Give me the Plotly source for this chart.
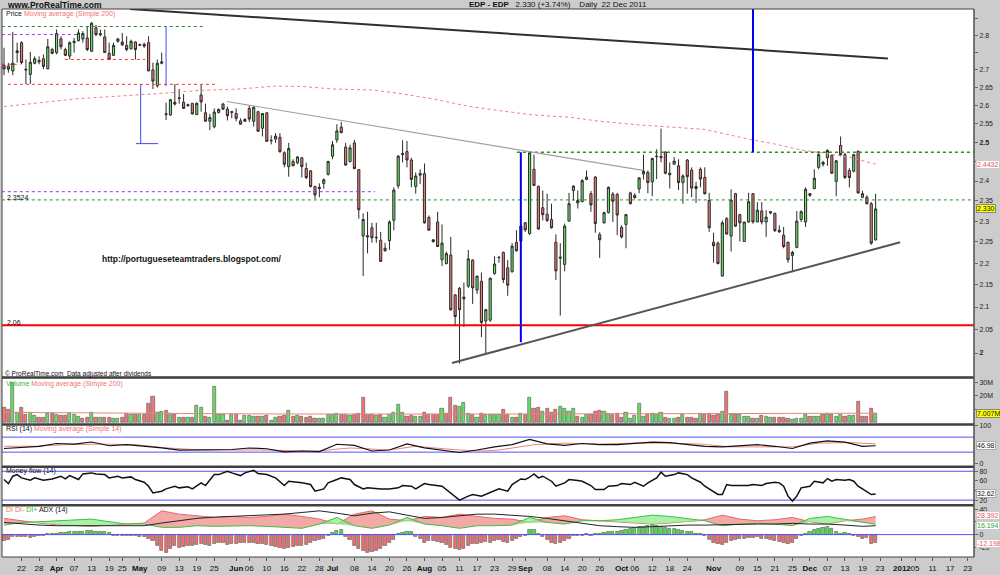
import numpy as np
import pandas as pd
import plotly.graph_objects as go
from plotly.subplots import make_subplots

FONT = "Liberation Sans, Arial, sans-serif"

# ---------------- data ----------------
holidays = ["2011-04-22", "2011-04-25", "2011-12-26"]

opens = [2.713,2.711,2.697,2.750,2.779,2.702,2.687,2.719,2.723,2.732,
         2.703,2.759,2.750,2.790,2.759,2.740,2.779,2.785,2.790,2.793,
         2.754,2.823,2.802,2.796,2.748,2.742,2.783,2.781,2.771,2.761,
         2.781,2.773,2.774,2.779,2.700,2.655,2.719,2.575,2.574,2.609,
         2.621,2.609,2.600,2.606,2.575,2.629,2.580,2.557,2.542,2.581,
         2.604,2.590,2.581,2.578,2.558,2.557,2.592,2.557,2.583,2.538,
         2.580,2.506,2.509,2.514,2.473,2.437,2.450,2.447,2.460,2.432,
         2.426,2.386,2.381,2.394,2.417,2.464,2.507,2.541,2.488,2.450,
         2.499,2.429,2.264,2.265,2.284,2.261,2.254,2.235,2.253,2.302,
         2.388,2.468,2.476,2.454,2.386,2.415,2.419,2.309,2.251,2.298,
         2.208,2.199,2.219,2.127,2.142,2.118,2.147,2.207,2.138,2.158,
         2.069,2.071,2.176,2.214,2.225,2.189,2.180,2.249,2.252,2.296,
         2.270,2.430,2.386,2.333,2.317,2.304,2.249,2.214,2.197,2.300,
         2.376,2.345,2.348,2.404,2.368,2.410,2.267,2.296,2.321,2.367,
         2.366,2.285,2.292,2.370,2.358,2.380,2.418,2.422,2.398,2.464,
         2.460,2.475,2.416,2.443,2.439,2.396,2.454,2.428,2.386,2.430,
         2.409,2.351,2.249,2.247,2.170,2.306,2.264,2.368,2.316,2.251,
         2.298,2.368,2.298,2.325,2.298,2.320,2.319,2.278,2.266,2.249,
         2.218,2.237,2.304,2.298,2.368,2.381,2.435,2.443,2.460,2.466,
         2.399,2.492,2.468,2.427,2.425,2.477,2.359,2.359,2.343,2.255]
highs = [2.764,2.720,2.811,2.779,2.783,2.730,2.752,2.739,2.739,2.745,
         2.790,2.764,2.818,2.798,2.764,2.783,2.793,2.818,2.813,2.827,
         2.840,2.832,2.818,2.818,2.779,2.779,2.793,2.808,2.798,2.788,
         2.783,2.776,2.779,2.798,2.721,2.730,2.750,2.608,2.618,2.660,
         2.646,2.632,2.605,2.606,2.609,2.657,2.605,2.577,2.592,2.592,
         2.607,2.597,2.585,2.592,2.565,2.565,2.600,2.598,2.585,2.578,
         2.580,2.519,2.525,2.525,2.477,2.499,2.456,2.464,2.460,2.447,
         2.428,2.388,2.394,2.407,2.452,2.504,2.549,2.555,2.499,2.494,
         2.507,2.430,2.319,2.323,2.296,2.296,2.274,2.248,2.302,2.384,
         2.467,2.506,2.504,2.460,2.422,2.430,2.445,2.314,2.257,2.323,
         2.292,2.227,2.262,2.129,2.145,2.155,2.231,2.209,2.170,2.178,
         2.096,2.167,2.216,2.216,2.227,2.207,2.247,2.278,2.292,2.298,
         2.477,2.468,2.389,2.376,2.368,2.343,2.268,2.247,2.294,2.370,
         2.389,2.376,2.405,2.427,2.375,2.413,2.273,2.323,2.386,2.372,
         2.370,2.290,2.318,2.373,2.369,2.410,2.468,2.427,2.460,2.482,
         2.537,2.477,2.448,2.462,2.456,2.417,2.456,2.435,2.398,2.435,
         2.435,2.370,2.272,2.251,2.302,2.310,2.379,2.370,2.318,2.298,
         2.370,2.368,2.347,2.347,2.327,2.325,2.321,2.290,2.286,2.251,
         2.229,2.325,2.327,2.384,2.370,2.430,2.477,2.452,2.482,2.468,
         2.454,2.516,2.473,2.433,2.470,2.479,2.375,2.364,2.347,2.368]
lows = [2.685,2.692,2.685,2.721,2.716,2.660,2.660,2.716,2.716,2.702,
        2.702,2.745,2.745,2.759,2.740,2.730,2.750,2.783,2.779,2.754,
        2.752,2.798,2.798,2.750,2.730,2.740,2.779,2.769,2.754,2.759,
        2.730,2.769,2.764,2.697,2.646,2.650,2.716,2.560,2.572,2.600,
        2.605,2.592,2.596,2.575,2.575,2.583,2.557,2.533,2.538,2.578,
        2.588,2.559,2.565,2.557,2.548,2.555,2.555,2.543,2.528,2.516,
        2.503,2.495,2.499,2.473,2.435,2.411,2.439,2.443,2.409,2.405,
        2.384,2.355,2.359,2.381,2.414,2.456,2.499,2.525,2.439,2.448,
        2.430,2.306,2.170,2.223,2.248,2.248,2.204,2.227,2.231,2.278,
        2.381,2.448,2.435,2.384,2.368,2.392,2.294,2.278,2.248,2.239,
        2.193,2.197,2.092,2.059,1.978,2.056,2.143,2.107,2.129,2.034,
        2.000,2.067,2.173,2.201,2.154,2.125,2.178,2.227,2.250,2.274,
        2.267,2.387,2.279,2.302,2.298,2.282,2.161,2.081,2.181,2.300,
        2.351,2.331,2.347,2.402,2.323,2.272,2.212,2.294,2.319,2.298,
        2.266,2.258,2.235,2.341,2.355,2.369,2.404,2.369,2.362,2.405,
        2.448,2.417,2.381,2.443,2.377,2.343,2.368,2.359,2.345,2.384,
        2.366,2.274,2.201,2.197,2.169,2.267,2.227,2.286,2.251,2.251,
        2.296,2.294,2.298,2.292,2.262,2.317,2.274,2.272,2.235,2.201,
        2.179,2.235,2.298,2.286,2.360,2.379,2.430,2.437,2.439,2.418,
        2.362,2.464,2.405,2.384,2.422,2.368,2.357,2.341,2.243,2.253]
closes = [2.703,2.702,2.719,2.755,2.721,2.700,2.722,2.732,2.727,2.710,
          2.767,2.748,2.806,2.767,2.742,2.779,2.783,2.808,2.806,2.759,
          2.837,2.803,2.806,2.750,2.730,2.771,2.790,2.773,2.759,2.783,
          2.759,2.772,2.769,2.697,2.668,2.719,2.723,2.577,2.616,2.604,
          2.620,2.592,2.602,2.577,2.606,2.610,2.557,2.567,2.582,2.589,
          2.590,2.572,2.583,2.565,2.549,2.562,2.563,2.595,2.530,2.578,
          2.503,2.505,2.517,2.476,2.443,2.484,2.439,2.462,2.437,2.409,
          2.386,2.365,2.384,2.403,2.450,2.494,2.531,2.526,2.441,2.486,
          2.432,2.328,2.304,2.262,2.260,2.260,2.204,2.229,2.298,2.377,
          2.464,2.471,2.454,2.404,2.413,2.419,2.296,2.278,2.255,2.239,
          2.247,2.222,2.094,2.079,2.094,2.122,2.210,2.143,2.170,2.066,
          2.094,2.165,2.198,2.213,2.162,2.149,2.240,2.229,2.288,2.279,
          2.473,2.389,2.281,2.316,2.302,2.284,2.182,2.212,2.288,2.343,
          2.387,2.351,2.401,2.410,2.340,2.294,2.255,2.321,2.384,2.349,
          2.315,2.262,2.316,2.343,2.364,2.408,2.425,2.396,2.458,2.463,
          2.463,2.420,2.420,2.451,2.396,2.413,2.411,2.382,2.381,2.405,
          2.368,2.284,2.241,2.199,2.296,2.269,2.352,2.288,2.296,2.298,
          2.348,2.298,2.327,2.298,2.310,2.323,2.277,2.274,2.239,2.208,
          2.225,2.300,2.323,2.379,2.364,2.407,2.468,2.448,2.479,2.420,
          2.452,2.468,2.409,2.409,2.468,2.370,2.368,2.343,2.247,2.330]
volume_m = [11.2,10.0,29.8,7.5,11.2,6.3,7.5,5.1,3.3,3.8,
            6.8,7.0,5.6,5.1,5.1,6.8,5.6,4.3,2.6,3.8,
            7.5,3.3,3.8,3.3,3.8,2.6,2.6,3.8,6.8,5.6,
            6.3,5.6,6.3,14.2,19.4,7.5,8.3,8.8,6.8,6.3,
            3.3,3.3,3.3,3.8,13.0,11.2,4.6,3.8,27.3,5.6,
            5.6,1.4,6.3,6.3,1.4,5.1,5.1,4.3,4.3,4.6,
            5.1,1.4,3.8,4.3,5.1,9.3,4.3,5.1,4.3,3.8,
            4.3,2.6,2.6,3.1,5.6,5.6,6.8,5.8,5.6,5.1,
            6.3,7.0,18.6,5.8,5.8,5.1,5.8,3.3,5.8,7.5,
            13.7,7.5,4.6,5.1,4.6,4.6,7.5,5.8,5.6,5.6,
            10.7,7.0,18.6,13.0,12.0,14.9,6.8,6.3,3.8,6.8,
            5.8,6.3,6.3,5.6,10.0,5.6,3.8,3.8,6.8,6.3,
            18.6,10.5,11.2,8.3,10.5,7.5,9.5,12.0,10.5,8.1,
            10.7,4.6,3.8,5.6,5.8,8.1,9.3,8.1,7.0,5.8,
            6.8,3.8,7.5,2.6,5.1,14.2,4.6,5.6,6.8,5.8,
            7.5,3.8,2.6,2.6,3.8,6.3,3.8,3.8,2.6,6.8,
            5.8,6.8,5.1,6.3,8.1,23.1,6.3,6.3,6.3,4.6,
            4.3,3.1,2.6,5.1,4.6,3.3,3.3,3.3,3.3,2.6,
            1.9,3.1,2.6,6.3,4.3,4.3,4.3,6.3,7.0,6.3,
            4.3,6.3,4.3,5.1,5.1,15.4,4.6,4.6,10.7,7.007]

ma200_idx = [0,17,34,45,54,62,68,75,84,90,98,106,113,121,129,136,145,152,160,165,170,176,182,188,193,199]
ma200_val = [2.597,2.619,2.632,2.642,2.646,2.654,2.653,2.646,2.643,2.634,2.618,2.598,2.586,2.574,
             2.568,2.557,2.547,2.541,2.535,2.522,2.509,2.496,2.480,2.471,2.461,2.4432]
vma_idx = [0,30,60,113,160,199]
vma_val = [7.6,7.0,6.4,6.3,6.5,7.0]

rsi_idx = [0,4,8,12,16,20,24,28,32,36,40,44,48,52,56,60,64,68,72,76,80,84,88,92,96,100,
           104,108,112,116,120,124,128,132,136,140,144,148,152,156,160,164,168,172,176,180,
           184,188,192,196,199]
rsi_val = [39.7,43,45.6,53,51.5,57,47,50,46.4,41.4,35.6,35.6,37,37,41,39,30.5,33,31.4,51,48,33,
           35.6,52,41.4,35.6,29,35.6,44,50,64,52,48,53,50,50,54,56.5,55.6,50.6,45.6,44,47,50,
           45.6,39.7,54,60,56.5,45.6,46.98]
rsima_idx = [0,7,14,22,30,37,45,52,60,68,72,75,79,83,87,90,94,98,104,109,113,121,128,136,144,
             151,159,166,174,180,186,193,199]
rsima_val = [45.6,45.6,49.8,51.5,50,41.4,35.6,35.6,35.6,33,33,37,41,39,35.6,39,45.6,41.4,35.6,33,
             35.6,49.8,54,51.5,54,54,51.5,44,44,44,54,55.6,52]

mf_idx = [0,1,2,3,4,6,7,9,11,12,13,14,15,17,18,20,21,23,24,26,27,29,30,32,33,34,36,37,39,40,
          42,43,45,46,48,49,51,52,54,55,57,58,60,62,64,65,67,68,70,71,73,74,76,77,79,80,82,83,
          86,88,90,91,93,94,96,97,100,101,103,104,106,107,109,110,112,113,115,116,118,119,120,
          121,122,123,125,126,128,129,131,132,134,135,137,138,140,141,143,144,146,147,149,150,
          151,153,154,156,157,159,160,162,163,164,165,166,168,170,171,173,174,176,177,178,179,
          180,181,182,184,185,187,188,189,190,192,193,194,195,196,198,199]
mf_val = [62.8,54.5,69.7,73.1,66.2,61.4,66.2,61.4,64.1,66.2,69.7,64.1,71,62.8,74.5,76.6,74.5,
          73.1,66.2,69.7,66.2,68.3,62.8,57.2,48.9,35.1,38.6,43.4,48.9,45.5,47.6,43.4,55.9,50.3,
          73.1,73.1,80,76.6,71,76.6,82,75.2,73.1,66.2,50.3,59.3,57.2,55.9,52.4,38.6,43.4,55.9,
          62.8,66.2,62.8,52.4,43.4,45.5,43.4,43.4,45.5,50.3,48.9,43.4,54.5,52.4,48.9,42,28.3,20,
          28.3,31.7,28.3,31.7,38.6,43.4,38.6,52.4,64.1,62.8,67.6,74.5,66.2,69.7,59.3,48.9,55.9,
          62.8,60.7,59.3,50.3,42,42,48.9,50.3,54.5,52.4,57.2,48.9,55.9,66.2,78,69.7,73.1,76.6,
          73.1,66.2,57.2,48.9,38.6,31.7,31.7,52.4,50.3,50.3,50.3,52.4,50.3,54.5,57.2,55.9,48.9,
          28.3,18,28.3,45.5,48.9,59.3,55.9,64.8,59.3,62.8,61.4,62.8,59.3,48.9,43.4,31.7,32.62]

di_idx = list(range(0, 197, 4)) + [199]
di_minus = [25.5,21.8,18.2,15.6,14,13,15,16.6,18.2,37.4,32.2,29.6,27,28.6,27,28.6,32.2,28.6,
            24.4,16.6,32.2,37.4,24.4,21.8,28.6,27,32.2,28.6,25.5,24.4,19.2,27,29.6,23.4,21.8,
            20.3,18.2,16.6,18.2,20.3,23.4,30.6,24.4,21.8,23.4,27,20.3,16.6,21.8,24.4,28.392]
di_plus = [15,19.2,20.3,21.8,23.4,24.4,20.3,16.6,16.6,11.4,11.4,14,13,14,14,13,11.4,9.9,16.6,
           27,14,9.9,15,27,16.6,14,9.9,14,14,15,27,19.2,16.6,21.8,21.8,23.4,27,30.6,28.6,25.5,
           21.8,14,16.6,17.7,16.6,14,25.5,28.6,24.4,19.2,16.194]
adx = [19.2,16.6,15,14,14,14,14,14,14,18.2,21.8,25.5,27.5,28.6,29.6,30.6,32.2,34.8,37.4,33.8,
       29.6,33.8,35.8,30.6,25.5,27,29.6,32.2,32.2,30.6,28.6,25.5,21.8,18.2,14,12.5,11.4,12.5,
       14,15,15,15.6,16.6,16.6,16.6,17.7,16.6,16.6,15,13,14]
di_hist = [-9,-8,-4,-3,-4,-3,-5,-3,-2,-2,
           1,2,2,3,3,4,5,4,5,6,
           6,5,5,4,3,-1,-2,-1,-2,-1,
           -2,-3,-4,-6,-10,-18,-26,-28,-22,-18,
           -20,-19,-18,-17,-16,-15,-16,-17,-14,-13,
           -12,-16,-15,-14,-12,-13,-13,-12,-14,-15,
           -16,-17,-19,-21,-22,-20,-19,-18,-17,-16,
           -13,-10,-8,-6,-2,3,6,8,-4,-8,
           -18,-22,-26,-28,-27,-25,-22,-18,-12,-8,
           1,3,5,4,-3,-6,-12,-10,-9,-11,
           -13,-16,-20,-23,-24,-22,-18,-15,-14,-13,
           -11,-12,-10,-8,-11,-13,-10,-6,-3,-1,
           8,7,2,-4,-8,-12,-14,-13,-10,-6,
           -2,-1,-1,1,-1,1,2,3,4,5,
           4,6,8,10,11,12,13,14,15,14,
           12,11,10,9,7,6,5,4,2,1,
           -2,-8,-12,-14,-16,-13,-10,-8,-7,-6,
           -5,-5,-4,-6,-7,-8,-9,-11,-13,-15,
           -12,-6,-2,2,5,8,10,11,12,10,
           5,2,3,1,-1,-4,-6,-5,-14,-12.198]

# user-drawn levels on the price chart: (start idx, end idx, price, colour, dash, width)
levels = [(-0.5, 45.4, 2.827, "#2e8b2e", "dot", 1),
          (-0.5, 16.9, 2.803, "#9933ff", "dot", 1),
          (13.9, 32.2, 2.730, "#ff3030", "dot", 1),
          (0.9, 48.2, 2.659, "#ff3030", "dot", 1),
          (-0.5, 3.7, 2.716, "#ff3030", "dot", 1),
          (-0.5, 84.7, 2.373, "#9933ff", "dot", 1),
          (-0.5, 221.5, 2.3524, "#2e8b2e", "dot", 1),
          (117.1, 221.5, 2.474, "#2e8b2e", "dot", 1.5),
          (-0.5, 221.5, 2.06, "#ff0000", "solid", 2)]
# user-drawn trend lines / markers: (x0, x1, p0, p1, colour, width)
drawings = [(28.8, 201.8, 2.880, 2.733, "#303030", 2),
            (50.9, 145.9, 2.611, 2.427, "#a0a0a0", 1.2),
            (102.3, 204.6, 1.979, 2.249, "#555555", 2),
            (37.0, 37.0, 2.827, 2.654, "#4444ff", 1),
            (31.2, 31.2, 2.659, 2.497, "#4444ff", 1),
            (30.1, 35.2, 2.497, 2.497, "#4444ff", 1),
            (118.0, 118.0, 2.474, 2.023, "#0000ee", 2),
            (171.0, 171.0, 2.880, 2.474, "#0000ee", 2)]

tick_dates = ["2011-03-22","2011-03-28","2011-04-01","2011-04-07","2011-04-13","2011-04-19",
              "2011-04-25","2011-05-02","2011-05-09","2011-05-13","2011-05-19","2011-05-25",
              "2011-06-01","2011-06-06","2011-06-10","2011-06-16","2011-06-22","2011-06-28",
              "2011-07-01","2011-07-08","2011-07-14","2011-07-20","2011-07-26","2011-08-01",
              "2011-08-05","2011-08-11","2011-08-17","2011-08-23","2011-08-29","2011-09-01",
              "2011-09-08","2011-09-14","2011-09-20","2011-09-26","2011-10-03","2011-10-06",
              "2011-10-12","2011-10-18","2011-10-24","2011-11-01","2011-11-09","2011-11-15",
              "2011-11-21","2011-11-25","2011-12-01","2011-12-07","2011-12-13","2011-12-19",
              "2011-12-23","2012-01-02","2012-01-05","2012-01-11","2012-01-17","2012-01-23"]
tick_text = ["22","28","<b>Apr</b>","07","13","19","25","<b>May</b>","09","13","19","25",
             "<b>Jun</b>","06","10","16","22","28","<b>Jul</b>","08","14","20","26","<b>Aug</b>",
             "05","11","17","23","29","<b>Sep</b>","08","14","20","26","<b>Oct</b>","06","12",
             "18","24","<b>Nov</b>","09","15","21","25","<b>Dec</b>","07","13","19","23",
             "<b>2012</b>","05","11","17","23"]

# ---------------- derived ----------------
N = len(closes)
for arr in (opens, highs, lows, volume_m, di_hist):
    assert len(arr) == N
cal = pd.bdate_range("2011-03-16", "2012-01-31")
cal = cal[~cal.isin(pd.to_datetime(holidays))]
idx = np.arange(N)
dates = cal[:N]
tickvals = [int(cal.searchsorted(pd.Timestamp(d))) for d in tick_dates]

up_day = [closes[i] >= (closes[i - 1] if i > 0 else opens[i]) for i in range(N)]
vol_colors = ["#66dd66" if u else "#ee7777" for u in up_day]
hist_colors = ["#55dd55" if v >= 0 else "#ee7070" for v in di_hist]
di_low = np.minimum(di_plus, di_minus)

# ---------------- layout geometry ----------------
W, H = 1000, 575
L, R, T, B = 2, 26, 9, 10
PW, PH = W - L - R, H - T - B
def fx(px): return (px - L) / PW
def fy(py): return (H - B - py) / PH

XR = [-0.46, 221.46]

fig = make_subplots(rows=5, cols=1, shared_xaxes=True, vertical_spacing=0)

# price
fig.add_trace(go.Candlestick(x=idx, open=opens, high=highs, low=lows, close=closes,
                             text=[d.strftime("%d %b %Y") for d in dates],
                             increasing=dict(line=dict(color="#2a2a2a", width=1), fillcolor="#66e666"),
                             decreasing=dict(line=dict(color="#2a2a2a", width=1), fillcolor="#ef7b7b"),
                             whiskerwidth=0), row=1, col=1)
fig.add_trace(go.Scatter(x=ma200_idx, y=ma200_val, mode="lines",
                         line=dict(color="#f08080", width=1, dash="dot"), hoverinfo="skip"), row=1, col=1)
for x0, x1, p, col, dash, w in levels:
    fig.add_trace(go.Scatter(x=[x0, x1], y=[p, p], mode="lines",
                             line=dict(color=col, width=w, dash=dash), hoverinfo="skip"), row=1, col=1)
for x0, x1, p0, p1, col, w in drawings:
    fig.add_trace(go.Scatter(x=[x0, x1], y=[p0, p1], mode="lines",
                             line=dict(color=col, width=w), hoverinfo="skip"), row=1, col=1)

# volume
fig.add_trace(go.Bar(x=idx, y=volume_m, marker=dict(color=vol_colors, line=dict(color="#555555", width=0.6)),
                     width=0.72), row=2, col=1)
fig.add_trace(go.Scatter(x=vma_idx, y=vma_val, mode="lines", line=dict(color="#f08080", width=1),
                         hoverinfo="skip"), row=2, col=1)

# RSI
for lvl in (70, 30):
    fig.add_trace(go.Scatter(x=XR, y=[lvl, lvl], mode="lines", line=dict(color="#5050ff", width=1),
                             hoverinfo="skip"), row=3, col=1)
fig.add_trace(go.Scatter(x=rsima_idx, y=rsima_val, mode="lines", line=dict(color="#f08080", width=1)), row=3, col=1)
fig.add_trace(go.Scatter(x=rsi_idx, y=rsi_val, mode="lines", line=dict(color="#111111", width=1.2)), row=3, col=1)

# Money flow
for lvl in (80, 20):
    fig.add_trace(go.Scatter(x=XR, y=[lvl, lvl], mode="lines", line=dict(color="#5050ff", width=1),
                             hoverinfo="skip"), row=4, col=1)
fig.add_trace(go.Scatter(x=mf_idx, y=mf_val, mode="lines", line=dict(color="#111111", width=1.5)), row=4, col=1)

# DI / ADX
fig.add_trace(go.Bar(x=idx, y=di_hist, marker=dict(color=hist_colors, line=dict(color="#555555", width=0.6)),
                     width=0.72), row=5, col=1)
fig.add_trace(go.Scatter(x=di_idx, y=di_low, mode="lines", line=dict(width=0), hoverinfo="skip"), row=5, col=1)
fig.add_trace(go.Scatter(x=di_idx, y=di_minus, mode="lines", fill="tonexty", fillcolor="rgba(240,140,140,0.75)",
                         line=dict(color="#e26a6a", width=1)), row=5, col=1)
fig.add_trace(go.Scatter(x=di_idx, y=di_low, mode="lines", line=dict(width=0), hoverinfo="skip"), row=5, col=1)
fig.add_trace(go.Scatter(x=di_idx, y=di_plus, mode="lines", fill="tonexty", fillcolor="rgba(140,235,140,0.75)",
                         line=dict(color="#3cc03c", width=1)), row=5, col=1)
fig.add_trace(go.Scatter(x=di_idx, y=adx, mode="lines", line=dict(color="#222222", width=1)), row=5, col=1)
fig.add_trace(go.Scatter(x=XR, y=[0, 0], mode="lines", line=dict(color="#5050ff", width=1),
                         hoverinfo="skip"), row=5, col=1)

# ---------------- axes ----------------
fig.update_xaxes(range=XR, showgrid=False, zeroline=False, rangeslider_visible=False,
                 showline=False, ticks="")
fig.update_layout(xaxis5=dict(tickmode="array", tickvals=tickvals, ticktext=tick_text, tickangle=0,
                              ticks="outside", ticklen=3, tickcolor="#555555",
                              tickfont=dict(family=FONT, size=8, color="#111111")))
fig.update_yaxes(side="right", showgrid=False, zeroline=False, ticks="outside", ticklen=3,
                 tickcolor="#666666", tickfont=dict(family=FONT, size=7, color="#222222"))

price_ticks = [2.0,2.05,2.1,2.15,2.2,2.25,2.3,2.35,2.4,2.45,2.5,2.55,2.6,2.65,2.7,2.75,2.8,2.85]
price_text = ["<b>2</b>","2.05","2.1","2.15","2.2","2.25","2.3","2.35","2.4","","<b>2.5</b>",
              "2.55","2.6","2.65","2.7","","2.8",""]
fig.update_layout(
    yaxis=dict(type="log", domain=[fy(382), 1.0], range=[np.log10(1.9506), np.log10(2.880)],
               tickmode="array", tickvals=price_ticks, ticktext=price_text),
    yaxis2=dict(domain=[fy(430), fy(384)], range=[-1.1, 33.0], tickmode="array",
                tickvals=[10, 20, 30], ticktext=["", "20M", "30M"]),
    yaxis3=dict(domain=[fy(473), fy(431)], range=[-7.9, 102.6], tickmode="array", tickvals=[0, 100]),
    yaxis4=dict(domain=[fy(512), fy(474)], range=[10.4, 88.2], tickmode="array",
                tickvals=[20, 40, 60, 80], ticktext=["20", "", "60", "80"]),
    yaxis5=dict(domain=[0.0, fy(513)], range=[-35.2, 45.4], tickmode="array",
                tickvals=[-20, 0, 20, 40], ticktext=["-20", "0", "", "40"]),
)

# ---------------- frame & separators ----------------
shapes = []
for py in (383, 430.5, 473.5, 512.5):
    shapes.append(dict(type="line", xref="paper", yref="paper", x0=0, x1=1, y0=fy(py), y1=fy(py),
                       line=dict(color="#404040", width=2.5)))
shapes.append(dict(type="line", xref="paper", yref="paper", x0=0, x1=1, y0=1, y1=1,
                   line=dict(color="#404040", width=1)))
shapes.append(dict(type="line", xref="paper", yref="paper", x0=0, x1=1, y0=0, y1=0,
                   line=dict(color="#404040", width=1)))
shapes.append(dict(type="line", xref="paper", yref="paper", x0=0, x1=0, y0=0, y1=1,
                   line=dict(color="#404040", width=1)))
shapes.append(dict(type="line", xref="paper", yref="paper", x0=1, x1=1, y0=0, y1=1,
                   line=dict(color="#505050", width=1.5)))

# ---------------- texts ----------------
ann = []
def txt(px, py, s, size=7, color="#111111", xanchor="left", yanchor="middle", **kw):
    ann.append(dict(x=fx(px), y=fy(py), xref="paper", yref="paper", text=s, showarrow=False,
                    xanchor=xanchor, yanchor=yanchor, font=dict(family=FONT, size=size, color=color), **kw))

RED = "#f07070"
txt(5, 4.5, "<b>www.ProRealTime.com</b>", size=8.5)
txt(467, 4.5, "<b>EDP - EDP</b>   2.330 (+3.74%)    Daily  22 Dec 2011", size=8)
txt(4, 14, f"Price <span style='color:{RED}'>Moving average (Simple 200)</span>")
txt(4, 389, f"<span style='color:#33bb33'>Volume</span> <span style='color:{RED}'>Moving average (Simple 200)</span>")
txt(4, 435.5, f"RSI (14) <span style='color:{RED}'>Moving average (Simple 14)</span>")
txt(4, 478, "Money flow (14)")
txt(4, 517, f"<span style='color:{RED}'>DI DI-</span> <span style='color:#33bb33'>DI+</span> ADX (14)")
txt(3, 379, "\u00a9 ProRealTime.com  Data adjusted after dividends", size=6.5)
txt(5, 200, "2.3524", size=7)
txt(5, 327.5, "2.06", size=7)
txt(100, 263, "<b>http://portugueseteamtraders.blogspot.com/</b>", size=8.5)

def vlabel(yref, yval, s, color="#111111", bg="white", border="#aaaaaa"):
    ann.append(dict(x=1.0 + 2 / PW, y=yval, xref="paper", yref=yref, text=s, showarrow=False,
                    xanchor="left", yanchor="middle", bgcolor=bg, bordercolor=border, borderwidth=1,
                    borderpad=0, font=dict(family=FONT, size=7, color=color)))

vlabel("y", np.log10(2.4432), "2.4432", color="#ee5555", border="#cccccc")
vlabel("y", np.log10(closes[-1]), f"{closes[-1]:.3f}", bg="#ffff00", border="#888888")
vlabel("y2", volume_m[-1], "7.007M", bg="#ffff00", border="#888888")
vlabel("y3", rsi_val[-1], f"{rsi_val[-1]:.2f}")
vlabel("y4", mf_val[-1] + 2, f"{mf_val[-1]:.2f}")
vlabel("y5", di_minus[-1] + 1.5, f"{di_minus[-1]:.3f}", color="#ee5555", border="#cccccc")
vlabel("y5", di_plus[-1] - 1.5, f"{di_plus[-1]:.3f}", color="#22aa22", border="#cccccc")
vlabel("y5", di_hist[-1] - 1.5, f"{di_hist[-1]:.3f}", color="#ee5555", border="#cccccc")

fig.update_layout(width=W, height=H, margin=dict(l=L, r=R, t=T, b=B), showlegend=False,
                  paper_bgcolor="#cccccc", plot_bgcolor="white", bargap=0,
                  shapes=shapes, annotations=ann, font=dict(family=FONT, size=8),
                  hovermode=False)

fig.write_html("out.html", config={"displayModeBar": False},
               post_script="document.body.style.margin='0';document.body.style.padding='0';"
                           "document.body.style.overflow='hidden';")
